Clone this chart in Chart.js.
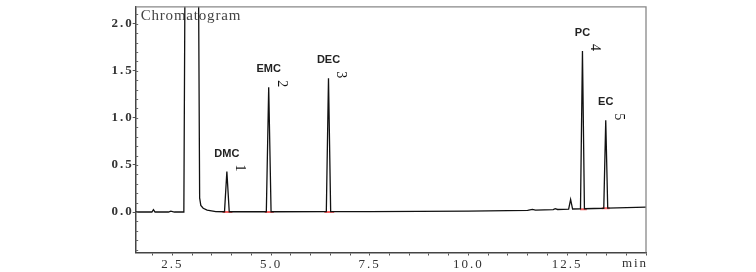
<!DOCTYPE html>
<html>
<head>
<meta charset="utf-8">
<script src="https://cdn.jsdelivr.net/npm/chart.js@4.4.1/dist/chart.umd.min.js"></script>
<style>
    body { margin: 0; background: #ffffff; }
    canvas { display: block; }
</style>
</head>
<body>
<canvas id="chromChart" width="756" height="272"></canvas>
<script>
// Retention time (min) and detector signal of the trace
const traceTime = [1.57, 1.98, 2.02, 2.06, 2.40, 2.46, 2.55, 2.79, 2.82, 3.00, 3.16, 3.19, 3.22, 3.28, 3.38, 3.60,
    3.82, 3.88, 3.94, 4.88, 4.94, 5.00, 6.40, 6.455, 6.51, 7.50, 10.0, 11.5, 11.62, 11.70, 12.15, 12.20, 12.26,
    12.54, 12.59, 12.64, 12.84, 12.89, 12.94, 13.43, 13.48, 13.53, 14.50];
const traceSignal = [0.0, 0.0, 0.025, 0.0, 0.0, 0.01, 0.0, 0.0, 2.6, 3.5, 2.6, 0.15, 0.07, 0.04, 0.02, 0.005,
    0.003, 0.43, 0.003, 0.003, 1.326, 0.003, 0.004, 1.42, 0.004, 0.005, 0.01, 0.018, 0.028, 0.02, 0.025, 0.035, 0.027,
    0.03, 0.134, 0.032, 0.033, 1.71, 0.035, 0.04, 0.976, 0.042, 0.053];

// Peaks
const peakNames = ['DMC', 'EMC', 'DEC', 'PC', 'EC'];
const peakNumbers = ['1', '2', '3', '4', '5'];
const peakTimes = [3.88, 4.94, 6.455, 12.89, 13.48];
const peakHeights = [0.43, 1.326, 1.42, 1.71, 0.976];

// Integration baseline marks (red)
const markStart = [3.77, 4.84, 6.35, 12.83, 13.38];
const markEnd = [4.02, 5.07, 6.60, 13.00, 13.58];
const markLevel = [0.0, 0.0, 0.0, 0.03, 0.04];

// Axis labels
const xTickValues = [2.5, 5.0, 7.5, 10.0, 12.5];
const xTickLabels = ['2.5', '5.0', '7.5', '10.0', '12.5'];
const yTickValues = [0.0, 0.5, 1.0, 1.5, 2.0];
const yTickLabels = ['0.0', '0.5', '1.0', '1.5', '2.0'];

const serif = "'Liberation Serif', 'DejaVu Serif', serif";
const sans = "'Liberation Sans', Arial, sans-serif";

const traceData = traceTime.map((t, i) => ({ x: t, y: traceSignal[i] }));
const markData = [];
markStart.forEach((s, i) => {
    markData.push({ x: s, y: markLevel[i] });
    markData.push({ x: markEnd[i], y: markLevel[i] });
    markData.push({ x: markEnd[i], y: null });
});

// Letter spacing for the tick labels, title under the trace
const spacingPlugin = {
    id: 'spacing',
    beforeDraw(chart) { chart.ctx.letterSpacing = '2px'; },
    beforeDatasetsDraw(chart) {
        const ctx = chart.ctx;
        const area = chart.chartArea;
        ctx.save();
        ctx.letterSpacing = '0.8px';
        ctx.font = '15px ' + serif;
        ctx.fillStyle = '#444';
        ctx.textAlign = 'left';
        ctx.textBaseline = 'alphabetic';
        ctx.fillText('Chromatogram', area.left + 5, area.top + 13);
        ctx.restore();
    },
    afterDraw(chart) { chart.ctx.letterSpacing = '0px'; }
};

// Frame, minor ticks and peak labels
const annotatePlugin = {
    id: 'annotate',
    afterDatasetsDraw(chart) {
        const ctx = chart.ctx;
        const area = chart.chartArea;
        const xs = chart.scales.x;
        const ys = chart.scales.y;
        ctx.save();

        // top and right frame
        ctx.strokeStyle = '#888';
        ctx.lineWidth = 1.3;
        ctx.beginPath();
        ctx.moveTo(area.left, area.top);
        ctx.lineTo(area.right, area.top);
        ctx.lineTo(area.right, area.bottom);
        ctx.stroke();

        // minor y ticks inside
        ctx.strokeStyle = '#666';
        ctx.lineWidth = 1;
        for (let v = -4; v <= 21; v++) {
            const py = Math.round(ys.getPixelForValue(v / 10)) + 0.5;
            ctx.beginPath();
            ctx.moveTo(area.left, py);
            ctx.lineTo(area.left + 2.5, py);
            ctx.stroke();
        }

        // peak names
        ctx.letterSpacing = '0px';
        ctx.font = 'bold 11px ' + sans;
        ctx.fillStyle = '#222';
        ctx.textAlign = 'center';
        ctx.textBaseline = 'middle';
        peakNames.forEach((name, i) => {
            const px = xs.getPixelForValue(peakTimes[i]);
            const py = ys.getPixelForValue(peakHeights[i]);
            ctx.fillText(name, px, py - 18);
        });

        // peak numbers, rotated
        ctx.font = '14px ' + serif;
        ctx.fillStyle = '#111';
        peakNumbers.forEach((num, i) => {
            const px = xs.getPixelForValue(peakTimes[i]);
            const py = ys.getPixelForValue(peakHeights[i]);
            ctx.save();
            ctx.translate(px + 12.5, py - 3.5);
            ctx.rotate(Math.PI / 2);
            ctx.fillText(num, 0, 0);
            ctx.restore();
        });

        // axis unit
        ctx.letterSpacing = '2px';
        ctx.font = '13px ' + serif;
        ctx.fillStyle = '#333';
        ctx.textAlign = 'center';
        ctx.fillText('min', area.right - 11, 263.5);
        ctx.restore();
    }
};

new Chart(document.getElementById('chromChart').getContext('2d'), {
    type: 'line',
    data: {
        datasets: [{
            data: traceData,
            borderColor: '#111',
            borderWidth: 1.3,
            pointRadius: 0,
            tension: 0
        }, {
            data: markData,
            borderColor: '#f56464',
            borderWidth: 2,
            pointRadius: 0,
            spanGaps: false
        }]
    },
    options: {
        responsive: false,
        animation: false,
        events: [],
        layout: { padding: { top: 5, right: 110, left: 0, bottom: 0 } },
        plugins: {
            legend: { display: false },
            tooltip: { enabled: false }
        },
        scales: {
            x: {
                type: 'linear',
                min: 1.57,
                max: 14.5,
                afterFit: (scale) => { scale.height = 19.5; },
                border: { display: true, color: '#444', width: 1.5 },
                grid: { drawOnChartArea: false, drawTicks: true, tickLength: 3, color: '#555' },
                ticks: {
                    stepSize: 0.5,
                    includeBounds: false,
                    autoSkip: false,
                    maxRotation: 0,
                    padding: 1,
                    color: '#333',
                    font: { family: serif, size: 13 },
                    callback: (value) => {
                        const i = xTickValues.indexOf(value);
                        return i >= 0 ? xTickLabels[i] : '';
                    }
                }
            },
            y: {
                min: -0.43,
                max: 2.18,
                afterFit: (scale) => { scale.width = 135.7; },
                border: { display: true, color: '#444', width: 1.5 },
                grid: { drawOnChartArea: false, drawTicks: true, tickLength: 3, color: '#555' },
                ticks: {
                    stepSize: 0.5,
                    includeBounds: false,
                    padding: -1,
                    color: '#333',
                    font: { family: serif, size: 13, weight: 'bold' },
                    callback: (value) => {
                        const i = yTickValues.indexOf(value);
                        return i >= 0 ? yTickLabels[i] : '';
                    }
                }
            }
        }
    },
    plugins: [spacingPlugin, annotatePlugin]
});
</script>
</body>
</html>
